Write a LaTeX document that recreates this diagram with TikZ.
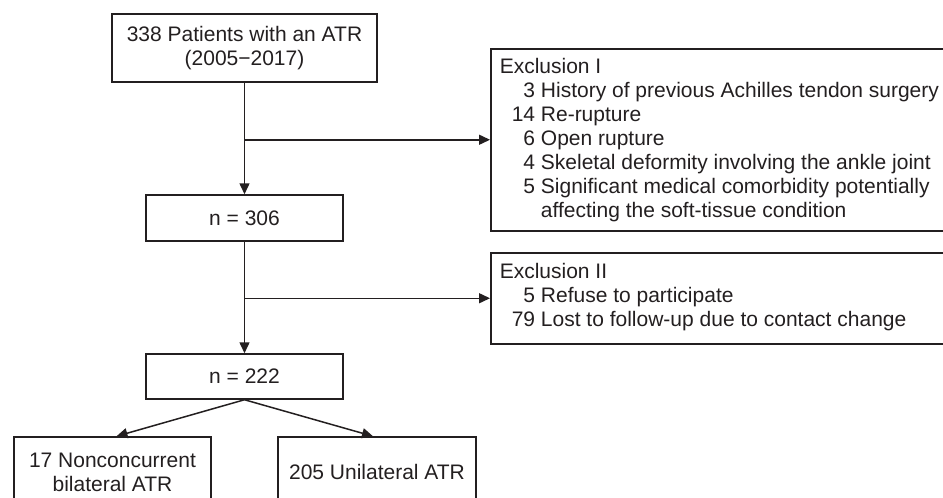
\documentclass[tikz,border=0pt]{standalone}
\usepackage{fontspec}
\setmainfont{Liberation Sans}
\usetikzlibrary{arrows.meta}
\definecolor{ink}{HTML}{231F20}
\begin{document}
\begin{tikzpicture}[x=0.5pt, y=-0.5pt, line width=0.75pt, ink,
    box/.style={draw, rectangle, inner sep=0pt, align=center, font=\fontsize{10.5}{12}\selectfont},
    txt/.style={anchor=base west, inner sep=0pt, font=\fontsize{10.5}{12}\selectfont},
    arrow/.style={-{Triangle[length=5.5pt, width=5pt]}}]
    \useasboundingbox (0,0) rectangle (943,498);
    \clip (0,0) rectangle (943,498);

    % Main flow
    \node[box, minimum width=132.5pt, minimum height=34pt] (start) at (244.5,48) {338 Patients with an ATR\\(2005−2017)};
    \node[box, minimum width=98.5pt, minimum height=23pt] (n306) at (244.5,218) {n = 306};
    \node[box, minimum width=98.5pt, minimum height=22.5pt] (n222) at (244.5,376.5) {n = 222};
    \node[box, minimum width=98.5pt, minimum height=35pt] (bilat) at (112.5,472) {17 Nonconcurrent\\bilateral ATR};
    \node[box, minimum width=99pt, minimum height=35pt] (unilat) at (377,472) {205 Unilateral ATR};

    % Exclusion boxes
    \node[box, anchor=north west, minimum width=229pt, minimum height=91pt] (excl1) at (490,48) {};
    \node[txt] (excl1txt) at (499,73.3) {\begin{tabular}[t]{@{\kern6pt}r@{\ }l@{}}
        \multicolumn{2}{@{}l}{Exclusion I}\\
        3 & History of previous Achilles tendon surgery\\
        14 & Re-rupture\\
        6 & Open rupture\\
        4 & Skeletal deformity involving the ankle joint\\
        5 & Significant medical comorbidity potentially\\
          & affecting the soft-tissue condition
    \end{tabular}};
    \node[box, anchor=north west, minimum width=229pt, minimum height=45.5pt] (excl2) at (490,252) {};
    \node[txt] (excl2txt) at (499,278) {\begin{tabular}[t]{@{\kern6pt}r@{\ }l@{}}
        \multicolumn{2}{@{}l}{Exclusion II}\\
        5 & Refuse to participate\\
        79 & Lost to follow-up due to contact change
    \end{tabular}};

    % Connectors
    \draw[arrow] (start) -- (n306);
    \draw[arrow] (start.south |- excl1.west) -- (excl1.west);
    \draw[arrow] (n306) -- (n222);
    \draw[arrow] (n306.south |- excl2.west) -- (excl2.west);
    \draw[arrow] (n222.south) -- ([xshift=2pt]bilat.north);
    \draw[arrow] (n222.south) -- ([xshift=-2pt]unilat.north);
\end{tikzpicture}
\end{document}
